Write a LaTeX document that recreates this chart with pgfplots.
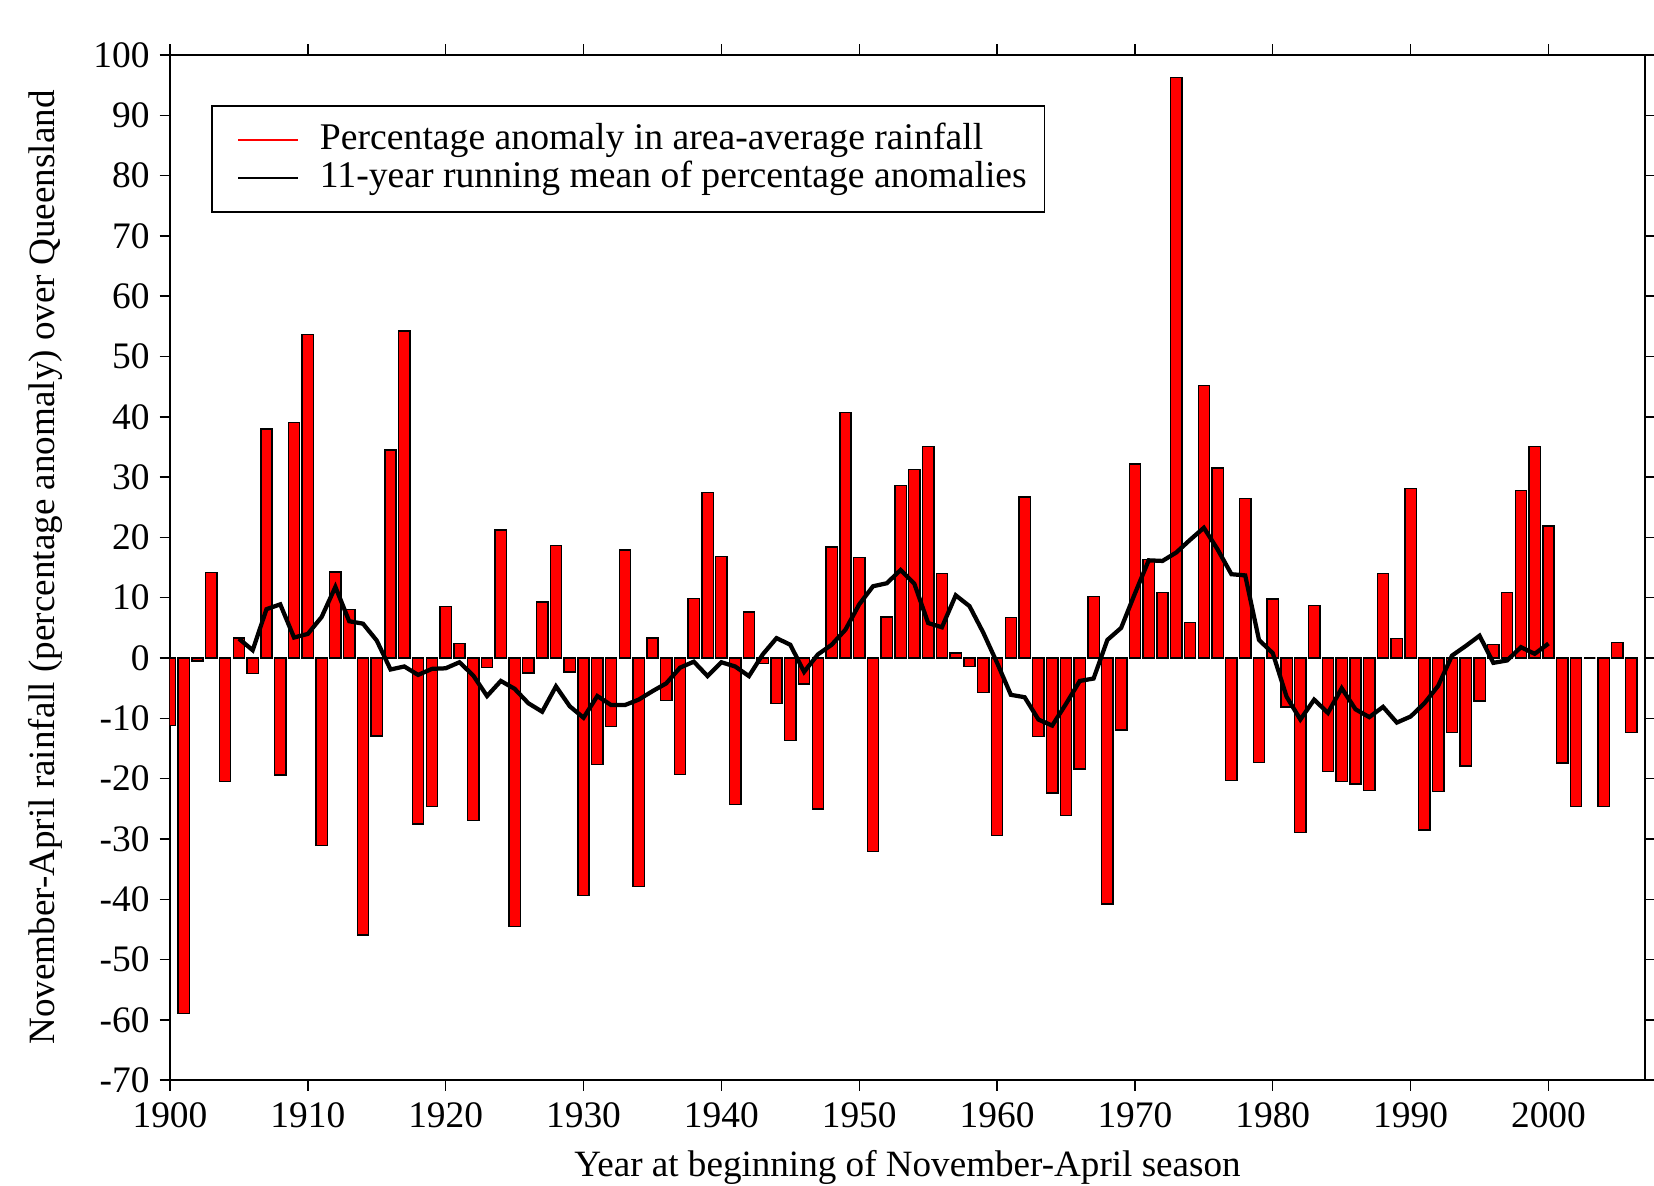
\documentclass[border=0pt]{standalone}
\usepackage{fontspec}
\setmainfont{Liberation Serif}
\usepackage{pgfplots}
\pgfplotsset{compat=1.18}
\usepackage{pgfplotstable}

\pgfplotstableread{
year val
1900 -11.2
1901 -58.9
1902 -0.5
1903 14.2
1904 -20.5
1905 3.3
1906 -2.6
1907 38.0
1908 -19.4
1909 39.1
1910 53.6
1911 -31.1
1912 14.3
1913 8.0
1914 -45.9
1915 -12.9
1916 34.5
1917 54.2
1918 -27.5
1919 -24.6
1920 8.5
1921 2.4
1922 -26.9
1923 -1.6
1924 21.2
1925 -44.5
1926 -2.5
1927 9.3
1928 18.7
1929 -2.3
1930 -39.4
1931 -17.7
1932 -11.4
1933 17.9
1934 -37.9
1935 3.3
1936 -7.0
1937 -19.3
1938 9.9
1939 27.4
1940 16.8
1941 -24.3
1942 7.6
1943 -0.9
1944 -7.5
1945 -13.7
1946 -4.3
1947 -25.0
1948 18.4
1949 40.7
1950 16.7
1951 -32.1
1952 6.8
1953 28.6
1954 31.3
1955 35.1
1956 14.0
1957 0.8
1958 -1.4
1959 -5.7
1960 -29.4
1961 6.7
1962 26.7
1963 -13.0
1964 -22.4
1965 -26.1
1966 -18.4
1967 10.2
1968 -40.8
1969 -11.9
1970 32.2
1971 16.3
1972 10.9
1973 96.3
1974 5.9
1975 45.2
1976 31.5
1977 -20.3
1978 26.5
1979 -17.3
1980 9.8
1981 -8.1
1982 -28.9
1983 8.7
1984 -18.8
1985 -20.5
1986 -20.9
1987 -22.0
1988 14.0
1989 3.2
1990 28.1
1991 -28.5
1992 -22.1
1993 -12.3
1994 -17.9
1995 -7.1
1996 2.2
1997 10.9
1998 27.8
1999 35.1
2000 21.9
2001 -17.4
2002 -24.6
2003 0.0
2004 -24.6
2005 2.6
2006 -12.3
}\anomaly

\pgfplotstableread{
year val
1905 3.2
1906 1.3
1907 8.1
1908 8.9
1909 3.4
1910 4.0
1911 6.8
1912 11.8
1913 6.1
1914 5.7
1915 2.9
1916 -1.9
1917 -1.4
1918 -2.8
1919 -1.8
1920 -1.7
1921 -0.7
1922 -2.9
1923 -6.3
1924 -3.8
1925 -5.1
1926 -7.5
1927 -8.9
1928 -4.7
1929 -8.0
1930 -9.9
1931 -6.3
1932 -7.8
1933 -7.8
1934 -6.9
1935 -5.5
1936 -4.2
1937 -1.6
1938 -0.6
1939 -3.0
1940 -0.7
1941 -1.4
1942 -3.0
1943 0.6
1944 3.3
1945 2.2
1946 -2.3
1947 0.6
1948 2.2
1949 4.7
1950 8.9
1951 11.9
1952 12.4
1953 14.6
1954 12.3
1955 5.8
1956 5.1
1957 10.4
1958 8.6
1959 4.2
1960 -0.8
1961 -6.1
1962 -6.5
1963 -10.2
1964 -11.2
1965 -7.6
1966 -3.8
1967 -3.4
1968 3.0
1969 5.0
1970 10.7
1971 16.2
1972 16.1
1973 17.5
1974 19.6
1975 21.6
1976 18.0
1977 13.9
1978 13.7
1979 3.0
1980 0.8
1981 -6.4
1982 -10.2
1983 -6.9
1984 -9.1
1985 -5.0
1986 -8.5
1987 -9.8
1988 -8.1
1989 -10.7
1990 -9.7
1991 -7.5
1992 -4.6
1993 0.4
1994 2.0
1995 3.7
1996 -0.8
1997 -0.4
1998 1.8
1999 0.7
2000 2.4
}\runmean

\begin{document}
\begin{tikzpicture}
\begin{axis}[
  scale only axis,
  width=18.30cm, height=12.72cm,
  xmin=1900, xmax=2007,
  ymin=-70, ymax=100,
  xtick={1900,1910,...,2000},
  ytick={-70,-60,...,100},
  tick align=outside,
  major tick length=0.13cm,
  axis line style={line width=0.5pt},
  tick style={line width=0.5pt, black},
  /pgf/number format/assume math mode=true,
  /pgf/number format/1000 sep={},
  ticklabel style={font=\fontsize{13.2}{15}\selectfont},
  xticklabel style={yshift=-0.02cm},
  xlabel={Year at beginning of November-April season},
  ylabel={November-April rainfall (percentage anomaly) over Queensland},
  label style={font=\fontsize{13.1}{15}\selectfont},
  xlabel style={at={(axis description cs:0.5,-0.085)}, anchor=center},
  ylabel style={at={(axis description cs:-0.0847,0.5)}, anchor=center},
  legend style={at={(axis description cs:0.028,0.951)}, anchor=north west,
    draw=black, line width=0.5pt, font=\fontsize{13.3}{15}\selectfont,
    inner xsep=0.17cm, inner ysep=0.19cm, row sep=0pt, column sep=0.22cm,
    nodes={inner xsep=0.05cm, inner ysep=0.25pt, text height=9.8pt, text depth=3.0pt}},
  legend cell align=left,
  legend image code/.code={%
    \pgfpathrectangle{\pgfpointorigin}{\pgfpoint{0.9cm}{0.01pt}}%
    \pgfusepath{use as bounding box}%
    \draw[#1] (0.154cm,0cm) -- (0.9cm,0cm);},
]
\coordinate (LL) at (rel axis cs:0,0);
\coordinate (UR) at (rel axis cs:1,1);
\addplot[ybar, bar width=0.82, fill=red, draw=black, line width=0.5pt, forget plot] table[x=year, y=val] {\anomaly};
\addplot[black, line width=1.5pt, forget plot] table[x=year, y=val] {\runmean};
\addlegendimage{red, line width=0.6pt}
\addlegendentry{Percentage anomaly in area-average rainfall}
\addlegendimage{black, line width=0.8pt}
\addlegendentry{11-year running mean of percentage anomalies}
\end{axis}
\pgfresetboundingbox
\path ([shift={(-2.109cm,-1.303cm)}]LL) rectangle ([shift={(0.112cm,0.682cm)}]UR);
\end{tikzpicture}
\end{document}
